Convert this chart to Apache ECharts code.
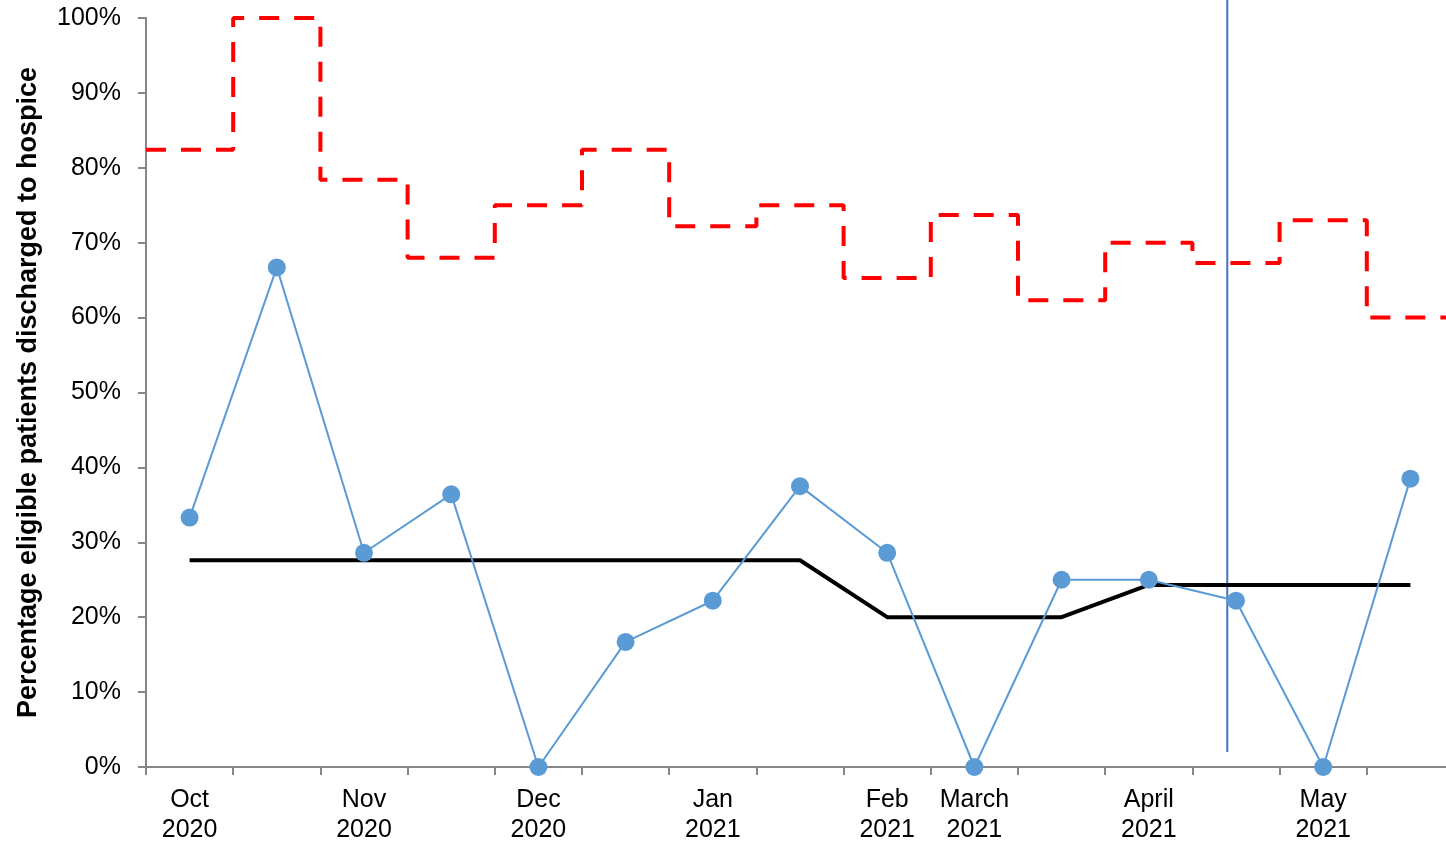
<!DOCTYPE html>
<html><head><meta charset="utf-8">
<script src="https://cdn.jsdelivr.net/npm/echarts@6/dist/echarts.min.js"></script>
<style>html,body{margin:0;padding:0;background:#fff}#c{width:1446px;height:843px}</style>
</head><body><div id="c"></div>
<script>
var categories = ['Oct\n2020','','Nov\n2020','','Dec\n2020','','Jan\n2021','','Feb\n2021','March\n2021','','April\n2021','','May\n2021',''];
var percentValues = [33.3, 66.7, 28.6, 36.4, 0, 16.7, 22.2, 37.5, 28.6, 0, 25, 25, 22.2, 0, 38.5];
var centreLine = [27.6, 27.6, 27.6, 27.6, 27.6, 27.6, 27.6, 27.6, 20, 20, 20, 24.3, 24.3, 24.3, 24.3];
var upperLimit = [82.4, 100, 78.4, 68.0, 75.0, 82.4, 72.2, 75.0, 65.3, 73.7, 62.3, 70.0, 67.3, 73.0, 60.0];
var yTicks = [0,10,20,30,40,50,60,70,80,90,100];
var changePoint = 12.4;
var changeLineRange = [2, 102.4];

var stepData = [];
upperLimit.forEach(function(v,i){ stepData.push([i, v]); stepData.push([i+1, v]); });
var changeLine = changeLineRange.map(function(y){ return [changePoint, y]; });

var chart = echarts.init(document.getElementById('c'));
var font = 'Liberation Sans, Arial, sans-serif';
chart.setOption({
  animation: false,
  grid: {left: 146, top: 18, width: 1308, bottom: 76, outerBoundsMode: 'none', containLabel: false},
  xAxis: [{
    type: 'category', data: categories, boundaryGap: true,
    axisLine: {lineStyle: {color: '#868686', width: 2}},
    axisTick: {show: true, alignWithLabel: false, length: 8, lineStyle: {color: '#868686', width: 2}, interval: 0},
    axisLabel: {interval: 0, color: '#000', fontSize: 25, fontFamily: font, lineHeight: 30, margin: 18},
    splitLine: {show: false}
  }, {
    type: 'value', min: 0, max: 15, show: false
  }],
  yAxis: {
    type: 'value', min: 0, max: 100, interval: 10,
    name: 'Percentage eligible patients discharged to hospice',
    nameLocation: 'middle', nameGap: 104,
    nameTextStyle: {fontSize: 27, fontWeight: 'bold', color: '#000', fontFamily: font},
    axisLine: {show: true, lineStyle: {color: '#868686', width: 2}},
    axisTick: {show: true, length: 8, lineStyle: {color: '#868686', width: 2}},
    axisLabel: {color: '#000', fontSize: 25, fontFamily: font, margin: 25,
      formatter: function(v){ return yTicks.indexOf(v) >= 0 ? v + '%' : ''; }},
    splitLine: {show: false}
  },
  series: [{
    type: 'line', xAxisIndex: 1, data: stepData, symbol: 'none', clip: false,
    lineStyle: {color: '#FF0000', width: 4, type: [20, 15]}, z: 2
  }, {
    type: 'line', xAxisIndex: 1, data: changeLine, symbol: 'none', clip: false,
    lineStyle: {color: '#4472C4', width: 2}, z: 2
  }, {
    type: 'line', data: centreLine, symbol: 'none',
    lineStyle: {color: '#000', width: 4}, z: 3
  }, {
    type: 'line', data: percentValues, symbol: 'circle', symbolSize: 18,
    itemStyle: {color: '#5B9BD5'}, lineStyle: {color: '#5B9BD5', width: 2}, z: 4
  }]
});
</script></body></html>
